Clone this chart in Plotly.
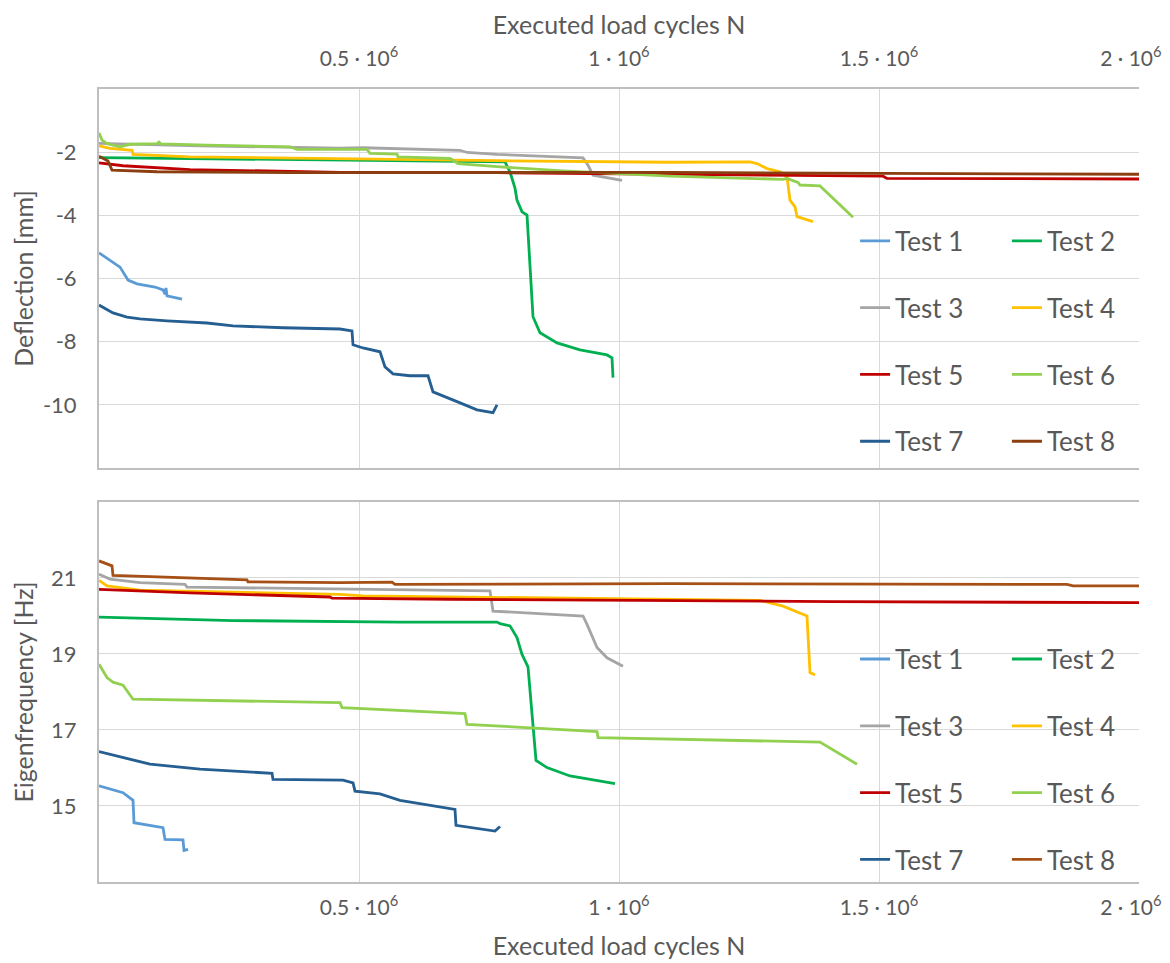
import plotly.graph_objects as go

names = ["Test 1", "Test 2", "Test 3", "Test 4", "Test 5", "Test 6", "Test 7", "Test 8"]
colors_top = ["#5B9BD5", "#00B050", "#A5A5A5", "#FFC000", "#C00000", "#92D050", "#255E91", "#8B3E0F"]
colors_bot = ["#5B9BD5", "#00B050", "#A5A5A5", "#FFC000", "#C00000", "#92D050", "#255E91", "#A65016"]

# ---------- Deflection [mm] vs executed load cycles ----------
d1_n = [0, 40400, 55800, 73100, 107700, 123100, 126900, 128800, 130800, 159600]
d1_v = [-5.19, -5.64, -6.05, -6.17, -6.27, -6.36, -6.50, -6.30, -6.55, -6.65]

d2_n = [0, 444200, 780800, 790400, 800000, 803800, 813500, 823100, 828800, 834600, 848100, 880800, 925000, 976900, 986500, 988500]
d2_v = [-2.17, -2.25, -2.31, -2.63, -3.14, -3.52, -3.89, -3.99, -5.63, -7.21, -7.72, -8.04, -8.26, -8.42, -8.51, -9.14]

d3_n = [0, 194200, 463500, 507700, 694200, 707700, 765400, 930800, 940400, 950000, 1005800]
d3_v = [-1.72, -1.80, -1.87, -1.86, -1.94, -2.01, -2.07, -2.18, -2.41, -2.73, -2.89]

d4_n = [0, 21200, 63500, 65400, 175000, 463500, 765400, 1098100, 1251900, 1265400, 1284600, 1309600, 1323100, 1328800, 1338500, 1342300, 1373100]
d4_v = [-1.80, -1.88, -1.94, -2.07, -2.15, -2.22, -2.27, -2.32, -2.31, -2.36, -2.52, -2.62, -2.78, -3.52, -3.73, -4.04, -4.20]

d5_n = [0, 46200, 175000, 367300, 463500, 765400, 1098100, 1507700, 1515400, 2000000]
d5_v = [-2.34, -2.43, -2.55, -2.62, -2.64, -2.65, -2.70, -2.76, -2.83, -2.85]

d6_n = [0, 5800, 15400, 40400, 59600, 111500, 115400, 119200, 207700, 367300, 380800, 515400, 521200, 573100, 575000, 675000, 690400, 765400, 892300, 1098100, 1315400, 1323100, 1344200, 1348100, 1386500, 1450000]
d6_v = [-1.39, -1.62, -1.73, -1.83, -1.75, -1.73, -1.68, -1.74, -1.78, -1.83, -1.91, -1.91, -2.04, -2.06, -2.15, -2.20, -2.36, -2.46, -2.59, -2.76, -2.86, -2.83, -2.96, -3.04, -3.07, -4.06]

d7_n = [0, 26900, 53800, 78800, 130800, 207700, 257700, 353800, 463500, 486500, 488500, 507700, 540400, 550000, 565400, 598100, 632700, 642300, 688500, 726900, 757700, 765400]
d7_v = [-6.84, -7.09, -7.22, -7.28, -7.34, -7.41, -7.50, -7.56, -7.60, -7.66, -8.10, -8.20, -8.32, -8.80, -9.02, -9.08, -9.08, -9.59, -9.90, -10.16, -10.25, -10.00]

d8_n = [0, 17300, 25000, 111500, 367300, 1098100, 1507700, 2000000]
d8_v = [-2.13, -2.28, -2.57, -2.62, -2.65, -2.64, -2.67, -2.70]

# ---------- Eigenfrequency [Hz] vs executed load cycles ----------
f1_n = [0, 46200, 65400, 67300, 123100, 126900, 161500, 163500, 171200]
f1_v = [15.53, 15.35, 15.15, 14.56, 14.43, 14.12, 14.11, 13.83, 13.86]

f2_n = [0, 257700, 578800, 765400, 771200, 790400, 803800, 813500, 825000, 840400, 861500, 905800, 992300]
f2_v = [19.97, 19.88, 19.84, 19.84, 19.80, 19.74, 19.43, 18.99, 18.66, 16.20, 16.01, 15.79, 15.59]

f3_n = [0, 21200, 78800, 165400, 169200, 463500, 751900, 757700, 930800, 938500, 957700, 976900, 1007700]
f3_v = [21.10, 20.97, 20.88, 20.83, 20.76, 20.70, 20.66, 20.13, 20.00, 19.78, 19.17, 18.90, 18.68]

f4_n = [0, 15400, 78800, 463500, 507700, 1098100, 1271200, 1315400, 1361500, 1367300, 1376900]
f4_v = [20.94, 20.79, 20.68, 20.57, 20.53, 20.43, 20.41, 20.26, 20.00, 18.51, 18.45]

f5_n = [0, 175000, 444200, 448100, 675000, 1098100, 1411500, 2000000]
f5_v = [20.70, 20.61, 20.50, 20.47, 20.44, 20.40, 20.38, 20.35]

f6_n = [0, 15400, 26900, 46200, 65400, 463500, 467300, 703800, 707700, 957700, 959600, 1098100, 1386500, 1457700]
f6_v = [18.73, 18.38, 18.26, 18.18, 17.81, 17.72, 17.59, 17.43, 17.15, 16.96, 16.80, 16.76, 16.68, 16.10]

f7_n = [0, 32700, 98100, 194200, 323100, 332700, 334600, 469200, 488500, 492300, 540400, 578800, 684600, 686500, 761500, 771200]
f7_v = [16.43, 16.32, 16.10, 15.97, 15.86, 15.86, 15.70, 15.68, 15.61, 15.39, 15.32, 15.15, 14.91, 14.49, 14.34, 14.46]

f8_n = [0, 25000, 26900, 111500, 284600, 286500, 463500, 563500, 569200, 1098100, 1700000, 1861500, 1873100, 2000000]
f8_v = [21.45, 21.32, 21.07, 21.03, 20.95, 20.90, 20.88, 20.89, 20.83, 20.85, 20.83, 20.83, 20.79, 20.79]

x_tickvals = [500000, 1000000, 1500000, 2000000]
x_ticktext = ["0.5 · 10<sup>6</sup>", "1 · 10<sup>6</sup>", "1.5 · 10<sup>6</sup>",
              "2 · 10<sup>6</sup>\u00a0\u00a0\u00a0"]
d_tickvals = [-10, -8, -6, -4, -2]
d_ticktext = ["\u00a0-10", "\u00a0-8", "\u00a0-6", "\u00a0-4", "\u00a0-2"]
f_tickvals = [15, 17, 19, 21]
f_ticktext = ["\u00a0\u00a015", "\u00a0\u00a017", "\u00a0\u00a019", "\u00a0\u00a021"]

top_data = [(d1_n, d1_v), (d2_n, d2_v), (d3_n, d3_v), (d4_n, d4_v),
            (d5_n, d5_v), (d6_n, d6_v), (d7_n, d7_v), (d8_n, d8_v)]
bot_data = [(f1_n, f1_v), (f2_n, f2_v), (f3_n, f3_v), (f4_n, f4_v),
            (f5_n, f5_v), (f6_n, f6_v), (f7_n, f7_v), (f8_n, f8_v)]

FONT = "Lato"
TXT = "#595959"

fig = go.Figure()
for i, (xs, ys) in enumerate(top_data):
    fig.add_trace(go.Scatter(
        x=xs, y=ys, mode="lines", name=names[i],
        line=dict(color=colors_top[i], width=2.8),
        xaxis="x", yaxis="y",
        legend="legend" if i % 2 == 0 else "legend2",
        legendgroup="top%d" % i,
    ))
for i, (xs, ys) in enumerate(bot_data):
    fig.add_trace(go.Scatter(
        x=xs, y=ys, mode="lines", name=names[i],
        line=dict(color=colors_bot[i], width=2.8),
        xaxis="x2", yaxis="y2",
        legend="legend3" if i % 2 == 0 else "legend4",
        legendgroup="bot%d" % i,
    ))

axis_common = dict(
    showgrid=True, gridcolor="#D9D9D9", gridwidth=1,
    showline=True, linecolor="#BFBFBF", linewidth=2,
    zeroline=False, ticks="",
)
XTICK_FONT = dict(family=FONT, size=21, color=TXT)
YTICK_FONT = dict(family=FONT, size=22, color=TXT)

leg_common = dict(
    bgcolor="rgba(0,0,0,0)", borderwidth=0,
    font=dict(family=FONT, size=26, color=TXT),
    traceorder="grouped", tracegroupgap=30,
    xanchor="left", yanchor="top", orientation="v",
)

H_TOP = 0.5221
H_BOT = 0.4792
TITLE_FONT = dict(family=FONT, size=25, color=TXT)

# page body has an 8 px margin: the figure is offset to compensate
fig.update_layout(
    width=1162, height=955,
    margin=dict(l=91, r=31, t=81, b=81, autoexpand=False),
    paper_bgcolor="white", plot_bgcolor="white",
    font=dict(family=FONT, color=TXT),
    showlegend=True,
    xaxis=dict(
        axis_common, domain=[0, 1], anchor="y", side="top",
        range=[0, 2000000], tickvals=x_tickvals, ticktext=x_ticktext,
        tickfont=XTICK_FONT,
        mirror=True, ticklabelstandoff=13, ticklabeloverflow="allow",
        title=dict(text="Executed load cycles N", font=TITLE_FONT, standoff=0),
    ),
    yaxis=dict(
        axis_common, domain=[H_TOP, 1], anchor="x",
        range=[-12, 0], tickvals=d_tickvals, ticktext=d_ticktext,
        tickfont=YTICK_FONT, ticklabelstandoff=16,
        title=dict(text="Deflection [mm]", font=TITLE_FONT, standoff=0),
    ),
    xaxis2=dict(
        axis_common, domain=[0, 1], anchor="y2", side="bottom",
        range=[0, 2000000], tickvals=x_tickvals, ticktext=x_ticktext,
        tickfont=XTICK_FONT,
        mirror=True, ticklabelstandoff=6, ticklabeloverflow="allow",
        title=dict(text="Executed load cycles N", font=TITLE_FONT, standoff=19),
    ),
    yaxis2=dict(
        axis_common, domain=[0, H_BOT], anchor="x2",
        range=[13, 23], tickvals=f_tickvals, ticktext=f_ticktext,
        tickfont=YTICK_FONT, ticklabelstandoff=16,
        title=dict(text="Eigenfrequency [Hz]", font=TITLE_FONT, standoff=0),
    ),
    legend=dict(leg_common, x=0.727, y=0.838),
    legend2=dict(leg_common, x=0.873, y=0.838),
    legend3=dict(leg_common, x=0.727, y=0.3107),
    legend4=dict(leg_common, x=0.873, y=0.3107),
)

fig.write_html("out.html")
